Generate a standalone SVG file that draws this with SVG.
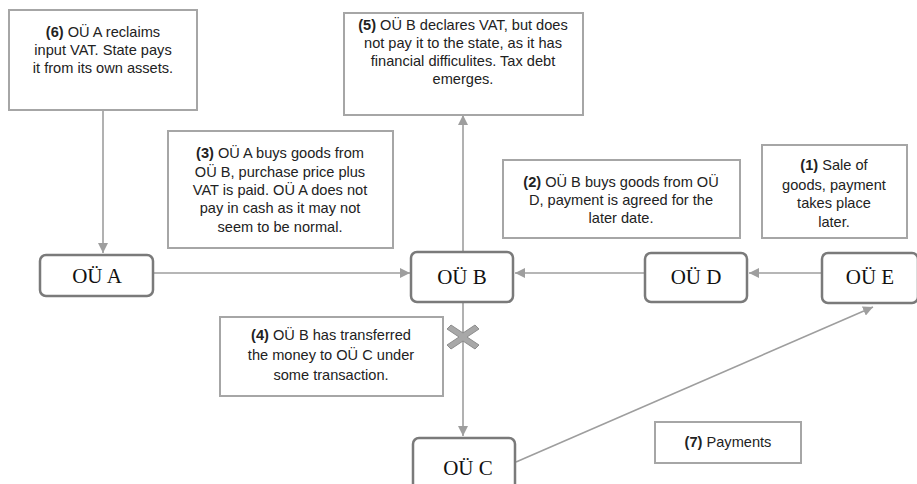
<svg xmlns="http://www.w3.org/2000/svg" width="917" height="484" viewBox="0 0 917 484">
  <style>
    .note { fill: #ffffff; stroke: #a6a6a6; stroke-width: 2; }
    .node { fill: #ffffff; stroke: #7a7a7a; stroke-width: 2.5; }
    .nt { font-family: "Liberation Sans", Arial, sans-serif; font-size: 14.6px; fill: #222; text-anchor: middle; }
    .nt .b { font-weight: bold; }
    .lbl { font-family: "Liberation Serif", "Times New Roman", serif; font-size: 21px; fill: #111; text-anchor: middle; }
    .edge { stroke: #9e9e9e; stroke-width: 1.6; fill: none; }
  </style>
  <defs>
    <marker id="arrow" viewBox="0 0 10 10" refX="10" refY="5" markerWidth="10" markerHeight="10" markerUnits="userSpaceOnUse" orient="auto">
      <path d="M0,0 L10,5 L0,10 z" fill="#9e9e9e"/>
    </marker>
  </defs>
  <rect width="917" height="484" fill="#ffffff"/>

  <!-- connectors -->
  <g id="connectors">
    <line class="edge" x1="103" y1="110" x2="103" y2="253" marker-end="url(#arrow)"/>
    <line class="edge" x1="154" y1="273" x2="410" y2="273" marker-end="url(#arrow)"/>
    <line class="edge" x1="644" y1="273" x2="515" y2="273" marker-end="url(#arrow)"/>
    <line class="edge" x1="821" y1="273" x2="749" y2="273" marker-end="url(#arrow)"/>
    <line class="edge" x1="463" y1="251" x2="463" y2="115" marker-end="url(#arrow)"/>
    <line class="edge" x1="463" y1="303" x2="463" y2="436" marker-end="url(#arrow)"/>
    <line class="edge" x1="516" y1="462" x2="873" y2="307" marker-end="url(#arrow)"/>
    <!-- cross marking the interrupted transfer -->
    <path d="M451,325 L463,333 L475,325 L479,329 L467,337 L479,345 L475,349 L463,341 L451,349 L447,345 L459,337 L447,329 z" fill="#a8a8a8" stroke="#8c8c8c" stroke-width="1"/>
  </g>

  <!-- explanatory notes -->
  <g id="note6">
    <rect class="note" x="9" y="10" width="188" height="100"/>
    <text class="nt" x="103" y="37"><tspan class="b">(6)</tspan> OÜ A reclaims</text>
    <text class="nt" x="103" y="55">input VAT. State pays</text>
    <text class="nt" x="103" y="73">it from its own assets.</text>
  </g>
  <g id="note5">
    <rect class="note" x="344" y="13" width="239" height="102"/>
    <text class="nt" x="463" y="30"><tspan class="b">(5)</tspan> OÜ B declares VAT, but does</text>
    <text class="nt" x="463" y="48">not pay it to the state, as it has</text>
    <text class="nt" x="463" y="66">financial difficulites. Tax debt</text>
    <text class="nt" x="463" y="84">emerges.</text>
  </g>
  <g id="note3">
    <rect class="note" x="168" y="131" width="225" height="117"/>
    <text class="nt" x="280" y="158"><tspan class="b">(3)</tspan> OÜ A buys goods from</text>
    <text class="nt" x="280" y="177">OÜ B, purchase price plus</text>
    <text class="nt" x="280" y="195">VAT is paid. OÜ A does not</text>
    <text class="nt" x="280" y="213">pay in cash as it may not</text>
    <text class="nt" x="280" y="232">seem to be normal.</text>
  </g>
  <g id="note2">
    <rect class="note" x="503" y="160" width="237" height="78"/>
    <text class="nt" x="621" y="187"><tspan class="b">(2)</tspan> OÜ B buys goods from OÜ</text>
    <text class="nt" x="621" y="205">D, payment is agreed for the</text>
    <text class="nt" x="621" y="223">later date.</text>
  </g>
  <g id="note1">
    <rect class="note" x="762" y="145" width="145" height="93"/>
    <text class="nt" x="834" y="170"><tspan class="b">(1)</tspan> Sale of</text>
    <text class="nt" x="834" y="190">goods, payment</text>
    <text class="nt" x="834" y="208">takes place</text>
    <text class="nt" x="834" y="227">later.</text>
  </g>
  <g id="note4">
    <rect class="note" x="220" y="317" width="223" height="79"/>
    <text class="nt" x="331" y="340"><tspan class="b">(4)</tspan> OÜ B has transferred</text>
    <text class="nt" x="331" y="360">the money to OÜ C under</text>
    <text class="nt" x="331" y="380">some transaction.</text>
  </g>
  <g id="note7">
    <rect class="note" x="655" y="422" width="146" height="41"/>
    <text class="nt" x="728" y="447"><tspan class="b">(7)</tspan> Payments</text>
  </g>

  <!-- companies -->
  <g id="ou-a">
    <rect class="node" x="40" y="255" width="113" height="41" rx="6"/>
    <text class="lbl" x="97" y="283">OÜ A</text>
  </g>
  <g id="ou-b">
    <rect class="node" x="411" y="252" width="102" height="50" rx="6"/>
    <text class="lbl" x="462" y="284">OÜ B</text>
  </g>
  <g id="ou-d">
    <rect class="node" x="645" y="253" width="102" height="49" rx="6"/>
    <text class="lbl" x="696" y="284">OÜ D</text>
  </g>
  <g id="ou-e">
    <rect class="node" x="822" y="253" width="96" height="50" rx="6"/>
    <text class="lbl" x="870" y="284">OÜ E</text>
  </g>
  <g id="ou-c">
    <rect class="node" x="413" y="438" width="102" height="56" rx="6"/>
    <text class="lbl" x="468" y="475">OÜ C</text>
  </g>
</svg>
